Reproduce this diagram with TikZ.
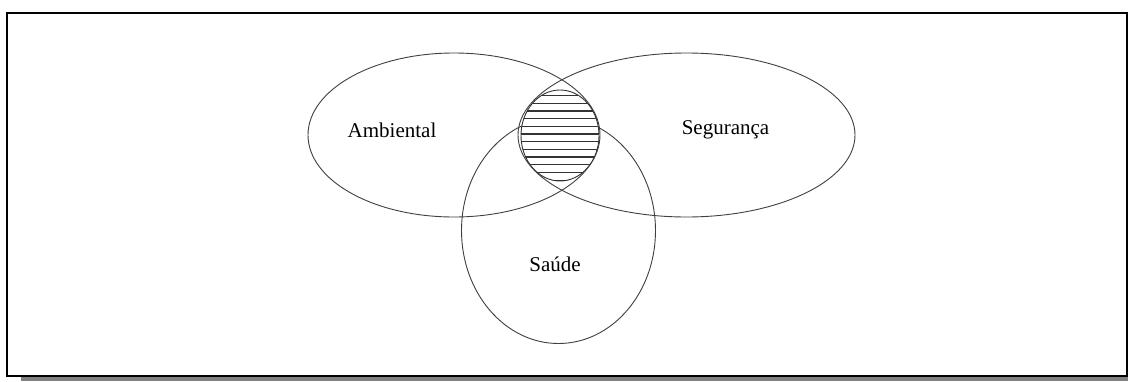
\documentclass[tikz,border=0pt]{standalone}
\usepackage{fontspec}
\setmainfont{Liberation Serif}
\usetikzlibrary{shapes.geometric}
\begin{document}
\begin{tikzpicture}[x=1pt,y=-1pt,
  set/.style={ellipse,draw=black!75,line width=0.9pt,inner sep=0pt},
  lbl/.style={font=\fontsize{21}{25}\selectfont,inner sep=0pt},
  hatch/.style={line width=1.3pt,black!80}]
\useasboundingbox (0,0) rectangle (1128,381);
% frame with shadow
\fill[black!50] (21,18) rectangle (1132,381);
\draw[fill=white,line width=1.2pt] (7,13) rectangle (1127,376);
% sets
\node[set,minimum width=292pt,minimum height=164pt] (amb) at (454,135) {};
\node[set,minimum width=337pt,minimum height=164pt] (seg) at (686.5,135) {};
\node[set,minimum width=194pt,minimum height=226pt] (sau) at (558.5,230.5) {};
% hatched intersection
\node[ellipse,draw=black!80,fill=white,line width=0.9pt,inner sep=0pt,
  minimum width=78pt,minimum height=91pt,
  path picture={\foreach \k in {0,...,11}{%
    \draw[hatch] ([yshift={-(5.5+7.7*\k)*1pt}]path picture bounding box.north west)
      -- ([yshift={-(5.5+7.7*\k)*1pt}]path picture bounding box.north east);}}]
  (core) at (560,135.5) {};
% labels
\node[lbl] (tamb) at (392,130) {Ambiental};
\node[lbl] (tseg) at (725.5,130) {Segurança};
\node[lbl] (tsau) at (555,264) {Saúde};
\end{tikzpicture}
\end{document}
